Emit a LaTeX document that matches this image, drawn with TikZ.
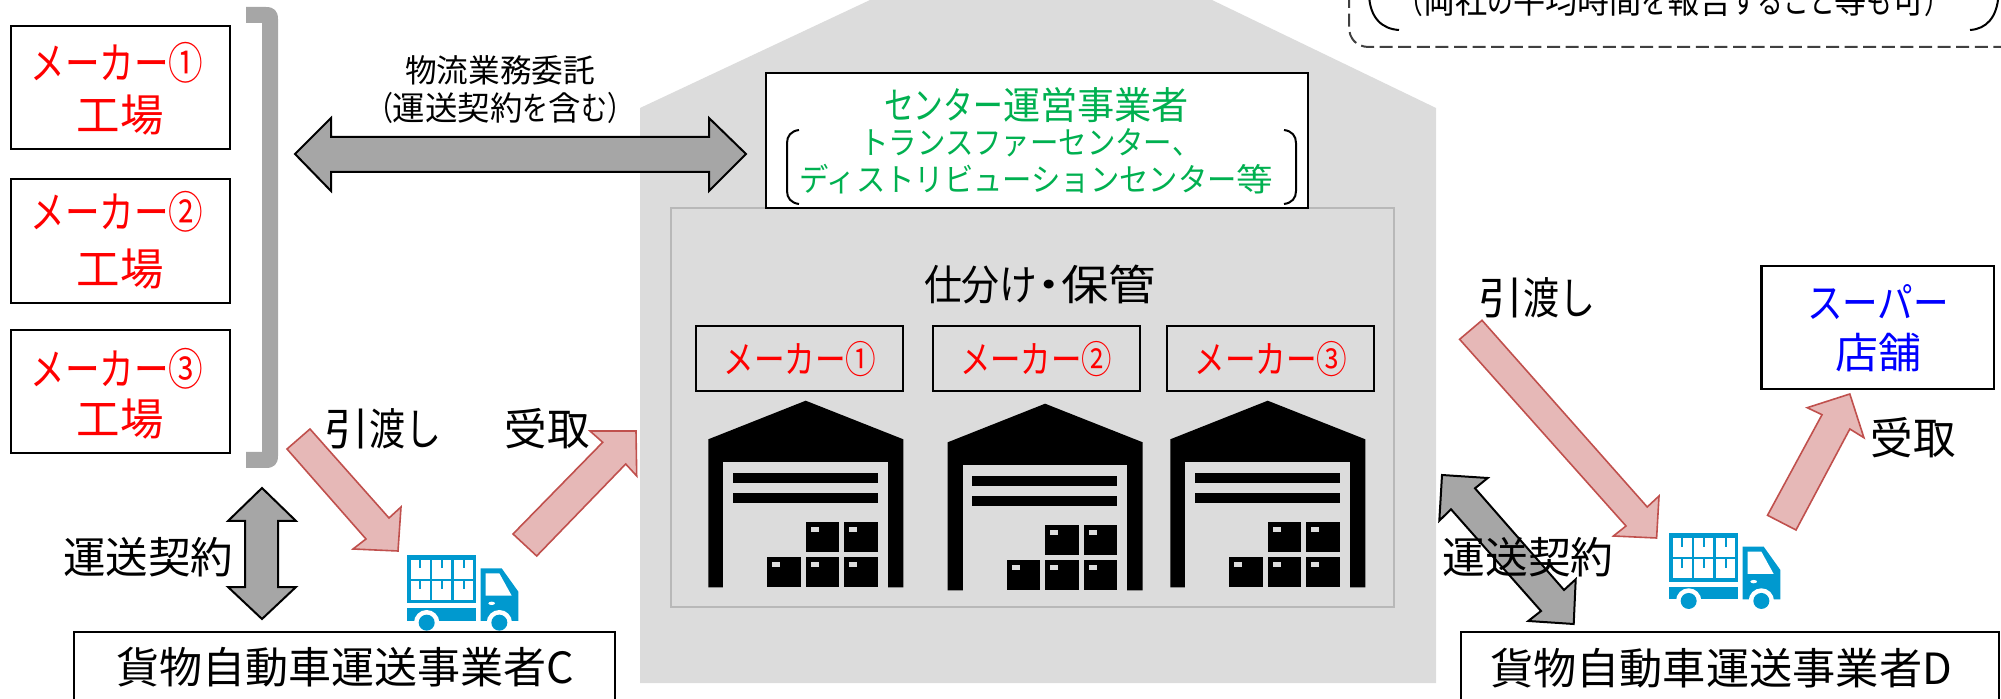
\documentclass[tikz,border=0pt]{standalone}
\usepackage{fontspec}
\usepackage{graphicx}
\setmainfont{Noto Sans CJK JP}
\newfontfamily\jk[FakeStretch=0.8]{Noto Sans CJK JP}
\newcommand\K[1]{{\jk #1}}
\newsavebox\txtbox
\newcommand\FitT[3]{\pgfmathsetmacro\fzz{#2*0.5}\fontsize{\fzz}{\fzz}\selectfont\sbox\txtbox{#3}\pgfmathsetmacro\rrr{#1*0.5/(\wd\txtbox)}\scalebox{\rrr}[1]{\usebox\txtbox}}
\newcommand\TX[7]{\node[anchor=base,inner sep=0pt,text=#7] (#1) at (#2,{#3+0.38*#5}) {\FitT{#4}{#5}{#6}};}
\newcommand\BX[6]{\node[#6,inner sep=0pt,minimum width={(#4-#2)*0.5pt},minimum height={(#5-#3)*0.5pt}] (#1) at ({(#2+#4)/2},{(#3+#5)/2}) {};}
\definecolor{bghouse}{HTML}{DCDCDC}
\definecolor{inrect}{HTML}{B8B8B8}
\definecolor{grayarrow}{HTML}{A6A6A6}
\definecolor{pinkfill}{HTML}{E6B8B7}
\definecolor{pinkline}{HTML}{C0504D}
\definecolor{greentx}{HTML}{00B050}
\definecolor{truckblue}{HTML}{0099CF}
\definecolor{dashcol}{HTML}{404040}
\tikzset{
  whitebox/.style={draw=black,fill=white,line width=1.25pt},
  thinbox/.style={draw=black,fill=white,line width=1pt},
  openbox/.style={draw=black,line width=1.25pt},
  grayarr/.style={fill=grayarrow,draw=black,line width=1pt,line join=miter},
  pinkarr/.style={fill=pinkfill,draw=pinkline,line width=0.8pt,line join=miter},
}
\newcommand\WH[2]{\begin{scope}[shift={(#1,#2)}]
 \fill[black] (708.3,587.3)--(708.3,439.3)--(805.7,400.7)--(903.3,439.3)--(903.3,587.3)--cycle;
 \fill[bghouse] (723.3,462.3) rectangle (888,588);
 \fill[black] (733,473.3) rectangle (878,482.7);
 \fill[black] (733,493) rectangle (878,502.7);
 \foreach \bx/\by in {805.7/522.3,844.3/522.3,767.3/557.3,805.7/557.3,844.3/557.3}{
   \fill[black] (\bx,\by) rectangle ++(33.6,29.8);
   \fill[bghouse] ({\bx+5},{\by+5}) rectangle ++(8,5);
 }
\end{scope}}
\newcommand\TRK[2]{\begin{scope}[shift={(#1,#2)}]\begin{scope}[shift={(380,510)},scale=0.33333]
 \fill[truckblue] (80,135) rectangle (288,280);
 \foreach \cx in {92,157,222}{\foreach \cy in {150,213}{
   \fill[white] (\cx,\cy) rectangle ++(57,57);
   \fill[truckblue] ({\cx+26},\cy) rectangle ++(6,25);
 }}
 \fill[truckblue] (80,295) rectangle (288,333);
 \fill[truckblue] (302,175)--(365,175)--(415,245)--(415,333)--(302,333)--cycle;
 \fill[white] (317,190)--(358,190)--(395,257)--(317,257)--cycle;
 \fill[white] (335,280) ellipse (10 and 5);
 \begin{scope}\clip (70,130) rectangle (430,333);
  \fill[white] (140,338) circle (38);
  \fill[white] (358,338) circle (38);
 \end{scope}
 \fill[truckblue] (140,338) circle (24);
 \fill[truckblue] (358,338) circle (24);
\end{scope}\end{scope}}
\begin{document}
\begin{tikzpicture}[x=0.5pt,y=-0.5pt]
\useasboundingbox (0,0) rectangle (2001,699);
\clip (0,0) rectangle (2001,699);
% house
\fill[bghouse] (640,683)--(640,108)--(870,0)--(875,-3)--(1207,-3)--(1212,0)--(1436,108)--(1436,683)--cycle;
\draw[draw=inrect,line width=1pt] (670.6,208) rectangle (1393.6,607);
% left factories
\BX{f1}{11}{26}{230}{149}{whitebox}
\BX{f2}{11}{179}{230}{303}{whitebox}
\BX{f3}{11}{330}{230}{453}{whitebox}
\TX{f1a}{117}{63}{173}{44}{\K{メーカー①}}{red}
\TX{f1b}{120}{115}{87}{44}{工場}{red}
\TX{f2a}{117}{212}{173}{44}{\K{メーカー②}}{red}
\TX{f2b}{120}{269}{87}{44}{工場}{red}
\TX{f3a}{117}{369}{173}{44}{\K{メーカー③}}{red}
\TX{f3b}{120}{419}{87}{44}{工場}{red}
% bracket
\fill[grayarrow] (246,7)--(266,7)..controls (274,7) and (278,11) .. (278,19)--(278,456)..controls (278,464) and (274,468) .. (266,468)--(246,468)--(246,452)--(262,452)--(262,23)--(246,23)--cycle;
% double arrows
\draw[grayarr] (295,154)--(331,118)--(331,137)--(709,137)--(709,118)--(746,154)--(709,191)--(709,172)--(331,172)--(331,191)--cycle;
\draw[grayarr] (262,488)--(296,521)--(278,521)--(278,587)--(296,587)--(262,619)--(228,587)--(245,587)--(245,521)--(228,521)--cycle;
\draw[grayarr] (1442,475)--(1487.7,478)--(1475,488.3)--(1564,590)--(1575.7,579.3)--(1573.7,624)--(1528.3,621)--(1541,611)--(1451,509.3)--(1439.3,520.7)--cycle;
% pink arrows
\draw[pinkarr] (287,449)--(310,429)--(389,518)--(401,507)--(398,551)--(353,549)--(366,539)--cycle;
\draw[pinkarr] (513,534)--(602.7,442.3)--(590,431)--(636,431)--(636.7,476)--(625.7,464)--(536.7,556)--cycle;
\draw[pinkarr] (1459.6,339.3)--(1482,320.3)--(1647.2,507)--(1659,496)--(1656.6,538)--(1613.4,536)--(1626,526)--cycle;
\draw[pinkarr] (1767.5,515.3)--(1822,414.7)--(1807.2,407.7)--(1849.8,394)--(1863.9,437.7)--(1849.8,429)--(1796,530)--cycle;
% trucks
\TRK{0}{0}
\TRK{1262}{-21.7}
% bottom boxes
\BX{cc}{74}{632}{615}{720}{thinbox}
\BX{dd}{1461}{632}{1999}{720}{thinbox}
\TX{cct}{345}{667}{458}{43}{貨物自動車運送事業者C}{black}
\TX{ddt}{1721}{668}{462}{43}{貨物自動車運送事業者D}{black}
% center box
\BX{cb}{766}{73}{1308}{208}{whitebox}
\TX{cb1}{1036.5}{105}{305}{38}{\K{センター}運営事業者}{greentx}
\TX{cb2}{1030.5}{142}{340}{32}{\K{トランスファーセンター、}}{greentx}
\TX{cb3}{1036.5}{179}{474}{32}{\K{ディストリビューションセンター}等}{greentx}
\draw[black,line width=1pt] (799,130)..controls (791,131) and (787,136) .. (787,143)--(787,191)..controls (787,198) and (791,203) .. (799,204);
\draw[black,line width=1pt] (1284,130)..controls (1292,131) and (1296,136) .. (1296,143)--(1296,191)..controls (1296,198) and (1292,203) .. (1284,204);
% sorting
\TX{sk}{1040}{285}{232}{42}{\K{仕分け}\hspace{-0.25em}・\hspace{-0.25em}保管}{black}
\BX{m1}{696}{326}{903}{391}{openbox}
\BX{m2}{933}{326}{1140}{391}{openbox}
\BX{m3}{1167}{326}{1374}{391}{openbox}
\TX{m1t}{800}{359}{153}{38}{\K{メーカー①}}{red}
\TX{m2t}{1036}{359}{152}{38}{\K{メーカー②}}{red}
\TX{m3t}{1271}{359}{153}{38}{\K{メーカー③}}{red}
\WH{0}{0}
\WH{239.4}{3}
\WH{462}{0}
% labels
\TX{la}{500}{70}{190}{32}{物流業務委託}{black}
\TX{lb}{500}{108}{266}{33}{\K{（}運送契約\K{を}含\K{む）}}{black}
\TX{lc}{148}{557}{170}{43}{運送契約}{black}
\TX{ld}{1528}{557}{171}{43}{運送契約}{black}
\TX{le}{383}{429}{117}{44}{引\K{渡し}}{black}
\TX{lf}{547}{429}{85}{44}{受取}{black}
\TX{lg}{1537}{298}{117}{44}{引\K{渡し}}{black}
\TX{lh}{1913}{438}{85}{44}{受取}{black}
% store
\BX{st}{1761.5}{266}{1994}{389}{whitebox}
\TX{st1}{1878}{303}{142}{42}{\K{スーパー}}{blue}
\TX{st2}{1878}{353}{86}{42}{店舗}{blue}
% top right note
\draw[dashcol,line width=1pt,dash pattern=on 6.5pt off 2.8pt] (1349,-5)--(1349,27)..controls (1349,39) and (1357,47) .. (1369,47)--(2010,47);
\draw[black,line width=1pt] (1369,-5)..controls (1370,18) and (1382,29) .. (1399,30);
\draw[black,line width=1pt] (1998.5,-5)..controls (1997,18) and (1986,29) .. (1970,30);
\TX{nt}{1674}{1}{553}{34}{\K{（}両社\K{の}平均時間\K{を}報告\K{すること}等\K{も}可\K{）}}{black}
\end{tikzpicture}
\end{document}
